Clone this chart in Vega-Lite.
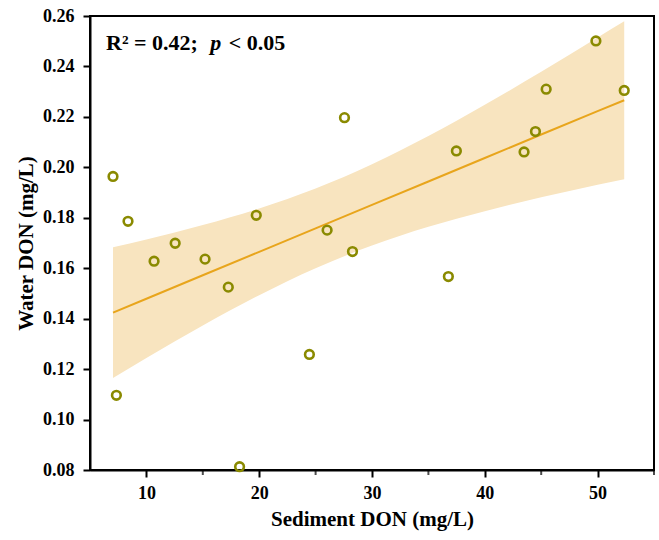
{
  "$schema": "https://vega.github.io/schema/vega-lite/v6.json",
  "width": 564,
  "height": 454,
  "autosize": {"type": "none"},
  "padding": {"left": 90, "top": 16, "right": 5, "bottom": 70},
  "background": "white",
  "config": {
    "view": {"stroke": "#000", "strokeWidth": 2},
    "font": "Liberation Serif",
    "axis": {
      "labelFont": "Liberation Serif",
      "titleFont": "Liberation Serif",
      "labelFontWeight": "bold",
      "titleFontWeight": "bold",
      "labelFontSize": 18,
      "titleFontSize": 21,
      "labelColor": "#000",
      "titleColor": "#000",
      "domainColor": "#000",
      "domainWidth": 2,
      "tickColor": "#000",
      "tickWidth": 2,
      "tickSize": 7,
      "grid": false
    }
  },
  "datasets": {
    "points": [
      {"sed": 7.04, "water": 0.1964},
      {"sed": 8.37, "water": 0.1786},
      {"sed": 10.68, "water": 0.1628},
      {"sed": 12.55, "water": 0.1699},
      {"sed": 15.2, "water": 0.1636},
      {"sed": 17.26, "water": 0.1525},
      {"sed": 19.74, "water": 0.181},
      {"sed": 7.34, "water": 0.1096},
      {"sed": 18.26, "water": 0.0813},
      {"sed": 24.45, "water": 0.1258},
      {"sed": 26.02, "water": 0.1751},
      {"sed": 27.56, "water": 0.2197},
      {"sed": 28.27, "water": 0.1666},
      {"sed": 36.77, "water": 0.1567},
      {"sed": 37.48, "water": 0.2065},
      {"sed": 43.48, "water": 0.2061},
      {"sed": 44.49, "water": 0.2142},
      {"sed": 45.44, "water": 0.231},
      {"sed": 49.85, "water": 0.2501},
      {"sed": 52.36, "water": 0.2305}
    ],
    "fit": [
      {"sed": 7.04, "fit": 0.1424, "lo": 0.1165, "hi": 0.1683},
      {"sed": 10, "fit": 0.1479, "lo": 0.1244, "hi": 0.1714},
      {"sed": 15, "fit": 0.1572, "lo": 0.1373, "hi": 0.1771},
      {"sed": 20, "fit": 0.1665, "lo": 0.1493, "hi": 0.1837},
      {"sed": 25, "fit": 0.1758, "lo": 0.16, "hi": 0.1916},
      {"sed": 30, "fit": 0.1851, "lo": 0.169, "hi": 0.2012},
      {"sed": 35, "fit": 0.1944, "lo": 0.1764, "hi": 0.2124},
      {"sed": 40, "fit": 0.2037, "lo": 0.1826, "hi": 0.2248},
      {"sed": 45, "fit": 0.213, "lo": 0.1881, "hi": 0.2379},
      {"sed": 50, "fit": 0.2223, "lo": 0.1931, "hi": 0.2515},
      {"sed": 52.36, "fit": 0.2266, "lo": 0.1953, "hi": 0.2579}
    ],
    "label": [
      {"sed": 6.42, "water": 0.2464, "txt": "R² = 0.42;", "style": "normal"},
      {"sed": 15.66, "water": 0.2464, "txt": "p", "style": "italic"},
      {"sed": 17.3, "water": 0.2464, "txt": "< 0.05", "style": "normal"}
    ]
  },
  "layer": [
    {
      "data": {"name": "fit"},
      "mark": {"type": "area", "color": "#f8e4bf", "opacity": 1, "interpolate": "monotone"},
      "encoding": {
        "x": {"field": "sed", "type": "quantitative", "scale": {"domain": [5, 55], "nice": false, "zero": false},
          "axis": {"title": "Sediment DON (mg/L)", "values": [10, 20, 30, 40, 50], "labelPadding": 7, "titlePadding": 6}},
        "y": {"field": "lo", "type": "quantitative", "scale": {"domain": [0.08, 0.26], "nice": false, "zero": false},
          "axis": {"title": "Water DON (mg/L)", "values": [0.08, 0.1, 0.12, 0.14, 0.16, 0.18, 0.2, 0.22, 0.24, 0.26], "format": ".2f", "labelPadding": 9, "titlePadding": 6}},
        "y2": {"field": "hi"}
      }
    },
    {
      "data": {"values": [{"t": 15}, {"t": 25}, {"t": 35}, {"t": 45}, {"t": 55}]},
      "mark": {"type": "tick", "orient": "vertical", "color": "#000", "thickness": 2, "size": 5, "yOffset": 2.5},
      "encoding": {"x": {"field": "t", "type": "quantitative"}, "y": {"datum": 0.08}}
    },
    {
      "data": {"name": "fit"},
      "mark": {"type": "line", "color": "#e8a51c", "strokeWidth": 2},
      "encoding": {
        "x": {"field": "sed", "type": "quantitative"},
        "y": {"field": "fit", "type": "quantitative"}
      }
    },
    {
      "data": {"name": "points"},
      "mark": {"type": "point", "shape": "circle", "filled": false, "color": "#8a8a00", "strokeWidth": 2.6, "size": 75, "opacity": 1},
      "encoding": {
        "x": {"field": "sed", "type": "quantitative"},
        "y": {"field": "water", "type": "quantitative"}
      }
    },
    {
      "data": {"name": "label"},
      "transform": [{"filter": "datum.style === 'normal'"}],
      "mark": {"type": "text", "font": "Liberation Serif", "fontWeight": "bold", "fontSize": 22, "align": "left", "baseline": "alphabetic", "color": "#000"},
      "encoding": {
        "x": {"field": "sed", "type": "quantitative"},
        "y": {"field": "water", "type": "quantitative"},
        "text": {"field": "txt"}
      }
    },
    {
      "data": {"name": "label"},
      "transform": [{"filter": "datum.style === 'italic'"}],
      "mark": {"type": "text", "font": "Liberation Serif", "fontWeight": "bold", "fontStyle": "italic", "fontSize": 22, "align": "left", "baseline": "alphabetic", "color": "#000"},
      "encoding": {
        "x": {"field": "sed", "type": "quantitative"},
        "y": {"field": "water", "type": "quantitative"},
        "text": {"field": "txt"}
      }
    }
  ]
}
